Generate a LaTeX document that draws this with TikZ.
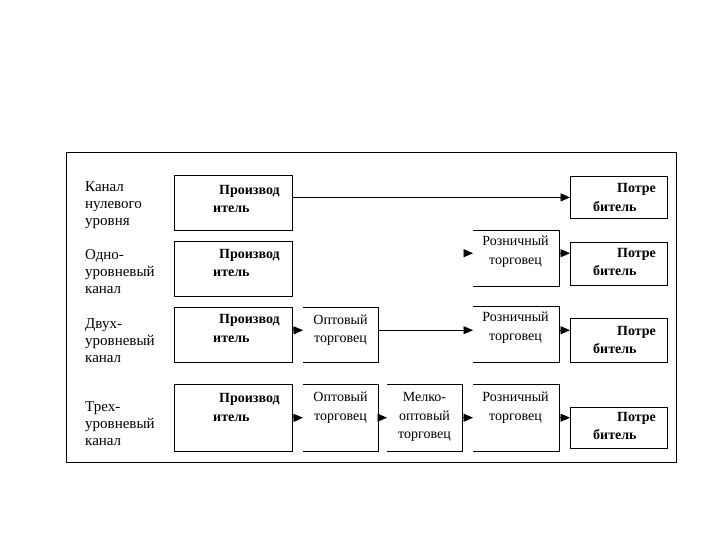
\documentclass[tikz,border=0pt]{standalone}
\usepackage{fontspec}
\setmainfont{Liberation Serif}
\usetikzlibrary{arrows.meta}
\tikzset{
  box/.style={thick, shape=rectangle, draw=black, anchor=north west, inner sep=0pt},
  openbox/.style={shape=rectangle, anchor=north west, inner sep=0pt},
  chanlabel/.style={anchor=west, align=left, inner sep=0pt, font=\fontsize{15}{17}\selectfont},
  endtext/.style={anchor=west, align=left, inner sep=0pt, font=\fontsize{14}{18.5}\selectfont\bfseries},
  midtext/.style={align=center, inner sep=0pt, font=\fontsize{14}{18.5}\selectfont},
  arr/.style={thick, -{Triangle[length=9.5pt,width=8pt]}},
}
\begin{document}
\begin{tikzpicture}[x=1pt, y=-1pt]
\useasboundingbox (0,0) rectangle (720,540);
\draw[thick] (66,152) rectangle (676,462);
% channel names
\node[chanlabel] (l1) at (85,205) {Канал\\нулевого\\уровня};
\node[chanlabel] (l2) at (85,272) {Одно-\\уровневый\\канал};
\node[chanlabel] (l3) at (85,341) {Двух-\\уровневый\\канал};
\node[chanlabel] (l4) at (85,424) {Трех-\\уровневый\\канал};
% producers
\node[box, minimum width=118pt, minimum height=55pt] (p1) at (174,175) {};
\node[box, minimum width=118pt, minimum height=55pt] (p2) at (174,241) {};
\node[box, minimum width=118pt, minimum height=55pt] (p3) at (174,307) {};
\node[box, minimum width=118pt, minimum height=67pt] (p4) at (174,384) {};
% consumers
\node[box, minimum width=97pt, minimum height=42pt] (c1) at (570,176) {};
\node[box, minimum width=97pt, minimum height=43pt] (c2) at (570,242) {};
\node[box, minimum width=97pt, minimum height=44pt] (c3) at (570,318) {};
\node[box, minimum width=97pt, minimum height=41pt] (c4) at (570,407) {};
% middlemen
\node[openbox, minimum width=86pt, minimum height=56pt] (r2) at (473,230) {};
\node[openbox, minimum width=86pt, minimum height=56pt] (r3) at (473,306) {};
\node[openbox, minimum width=86pt, minimum height=67pt] (r4) at (473,384) {};
\node[openbox, minimum width=75pt, minimum height=55pt] (w3) at (303,307) {};
\node[openbox, minimum width=75pt, minimum height=67pt] (w4) at (303,384) {};
\node[openbox, minimum width=75pt, minimum height=67pt] (m4) at (387,384) {};
\foreach \b in {r2,r3,r4,w3,w4,m4}
  \draw[thick] (\b.north west) -- (\b.north east) -- (\b.south east) -- (\b.south west);
% texts
\node[endtext] (tp1) at (213,199) {\hspace*{6pt}Производ\\итель};
\node[endtext] (tp2) at (213,263) {\hspace*{6pt}Производ\\итель};
\node[endtext] (tp3) at (213,328.5) {\hspace*{6pt}Производ\\итель};
\node[endtext] (tp4) at (213,407.5) {\hspace*{6pt}Производ\\итель};
\node[endtext] (tc1) at (593,197.5) {\hspace*{24pt}Потре\\битель};
\node[endtext] (tc2) at (593,262) {\hspace*{24pt}Потре\\битель};
\node[endtext] (tc3) at (593,340) {\hspace*{24pt}Потре\\битель};
\node[endtext] (tc4) at (593,426) {\hspace*{24pt}Потре\\битель};
\node[midtext] (tr2) at (515.5,251.5) {Розничный\\торговец};
\node[midtext] (tr3) at (515.5,327.5) {Розничный\\торговец};
\node[midtext] (tr4) at (515.5,407.5) {Розничный\\торговец};
\node[midtext] (tw3) at (340.5,330) {Оптовый\\торговец};
\node[midtext] (tw4) at (340.5,407.5) {Оптовый\\торговец};
\node[midtext] (tm4) at (424.5,417) {Мелко-\\оптовый\\торговец};
% arrows
\draw[arr] (p1.east |- c1.west) -- (c1.west);
\draw[arr] ([shift={(-9pt,5pt)}]r2.west) -- ([yshift=5pt]r2.west);
\draw[arr] ([yshift=5pt]r2.east) -- ([yshift=5pt]r2.east -| c2.west);
\draw[arr] ([yshift=4.5pt]p3.east) -- ([yshift=4.5pt]w3.west);
\draw[arr] ([yshift=4.5pt]w3.east) -- ([yshift=4.5pt]w3.east -| r3.west);
\draw[arr] ([yshift=4pt]r3.east) -- ([yshift=4pt]r3.east -| c3.west);
\draw[arr] (p4.east) -- (w4.west);
\draw[arr] (w4.east) -- (m4.west);
\draw[arr] (m4.east) -- (r4.west);
\draw[arr] (r4.east) -- (r4.east -| c4.west);
\end{tikzpicture}
\end{document}
